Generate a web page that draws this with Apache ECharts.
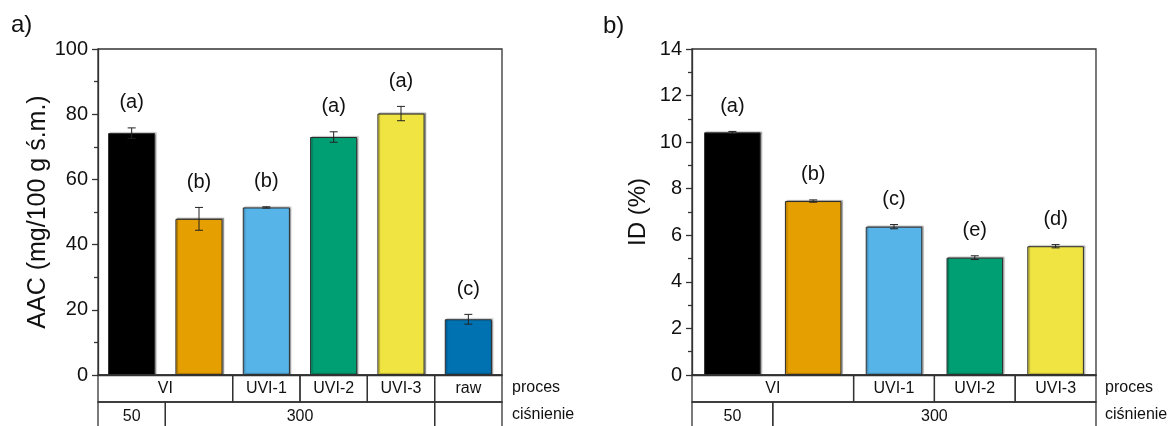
<!DOCTYPE html>
<html>
<head>
<meta charset="utf-8">
<script src="https://cdn.jsdelivr.net/npm/echarts@6/dist/echarts.min.js"></script>
<style>
  html, body { margin: 0; padding: 0; background: #fff; }
  #chart { width: 1170px; height: 426px; }
</style>
</head>
<body>
<div id="chart"></div>
<script>
const FONT = '"Liberation Sans", Arial, Helvetica, sans-serif';

// ---- panel a): AAC ----
const catsA = ['VI-50', 'VI-300', 'UVI-1', 'UVI-2', 'UVI-3', 'raw'];
const aacMean = [74.2, 47.9, 51.4, 73.0, 80.2, 17.1];
const aacErr = [1.6, 3.5, 0.2, 1.6, 2.2, 1.5];
const aacLetters = ['(a)', '(b)', '(b)', '(a)', '(a)', '(c)'];
const colorsA = ['#000000', '#E69F00', '#56B4E9', '#009E73', '#F0E442', '#0072B2'];
const procesA = [['VI', 0, 1], ['UVI-1', 2, 2], ['UVI-2', 3, 3], ['UVI-3', 4, 4], ['raw', 5, 5]];
const cisnA = [['50', 0, 0], ['300', 1, 4], ['', 5, 5]];
const yTicksA = { min: 0, max: 100, interval: 20 };

// ---- panel b): ID ----
const catsB = ['VI-50', 'VI-300', 'UVI-1', 'UVI-2', 'UVI-3'];
const idMean = [10.42, 7.47, 6.37, 5.04, 5.53];
const idErr = [0.04, 0.05, 0.09, 0.08, 0.07];
const idLetters = ['(a)', '(b)', '(c)', '(e)', '(d)'];
const colorsB = ['#000000', '#E69F00', '#56B4E9', '#009E73', '#F0E442'];
const procesB = [['VI', 0, 1], ['UVI-1', 2, 2], ['UVI-2', 3, 3], ['UVI-3', 4, 4]];
const cisnB = [['50', 0, 0], ['300', 1, 4]];
const yTicksB = { min: 0, max: 14, interval: 2 };

const ROW_H = 27;
const LINE = '#333333';

function buildCells(proces, cisn) {
  const cells = [];
  proces.forEach(p => cells.push({ text: p[0], from: p[1], to: p[2], row: 0 }));
  cisn.forEach(p => cells.push({ text: p[0], from: p[1], to: p[2], row: 1 }));
  return cells;
}

// group table beneath the category axis, cells spanning whole category bands
function tableRenderer(cells) {
  return function (params, api) {
    const c = cells[params.dataIndex];
    const band = api.size([1, 0])[0];
    const x0 = api.coord([c.from, 0])[0] - band / 2;
    const x1 = api.coord([c.to, 0])[0] + band / 2;
    const yTop = api.coord([c.from, 0])[1] + c.row * ROW_H;
    const h = c.row === 0 ? ROW_H : ROW_H + 10;
    return {
      type: 'group',
      children: [
        {
          type: 'rect',
          shape: { x: x0, y: yTop, width: x1 - x0, height: h },
          style: { fill: 'none', stroke: LINE, lineWidth: 1.3 }
        },
        {
          type: 'text',
          style: {
            text: c.text, x: (x0 + x1) / 2, y: yTop + ROW_H / 2 + (c.row ? 1 : 0),
            align: 'center', verticalAlign: 'middle',
            fontSize: 16, fontFamily: FONT, fill: '#111'
          }
        }
      ]
    };
  };
}

// error bars with significance letters above them
function errRenderer(letters) {
  return function (params, api) {
    const i = api.value(0), v = api.value(1), e = api.value(2);
    const top = api.coord([i, v + e]);
    const bot = api.coord([i, v - e]);
    const cap = 4;
    return {
      type: 'group',
      children: [
        { type: 'line', shape: { x1: top[0], y1: top[1], x2: bot[0], y2: bot[1] }, style: { stroke: '#222', lineWidth: 1 } },
        { type: 'line', shape: { x1: top[0] - cap, y1: top[1], x2: top[0] + cap, y2: top[1] }, style: { stroke: '#222', lineWidth: 1 } },
        { type: 'line', shape: { x1: bot[0] - cap, y1: bot[1], x2: bot[0] + cap, y2: bot[1] }, style: { stroke: '#222', lineWidth: 1 } },
        {
          type: 'text',
          style: {
            text: letters[params.dataIndex], x: top[0], y: top[1] - 25,
            align: 'center', verticalAlign: 'middle',
            fontSize: 20, fontFamily: FONT, fill: '#111'
          }
        }
      ]
    };
  };
}

function yAxis(gridIndex, ticks, name, nameGap, nameSize) {
  return {
    type: 'value', gridIndex, min: ticks.min, max: ticks.max, interval: ticks.interval,
    name, nameLocation: 'middle', nameGap,
    nameTextStyle: { fontSize: nameSize, fontFamily: FONT, color: '#111' },
    axisLine: { show: true, lineStyle: { color: LINE, width: 1.3 } },
    axisTick: { show: true, inside: false, length: 6, lineStyle: { color: LINE, width: 1.3 } },
    minorTick: { show: true, splitNumber: 2, length: 4, lineStyle: { color: LINE, width: 1.3 } },
    axisLabel: { fontSize: 20, fontFamily: FONT, color: '#111', margin: 10 },
    splitLine: { show: false }
  };
}

function xAxis(gridIndex, cats) {
  return {
    type: 'category', gridIndex, data: cats,
    axisLine: { show: true, lineStyle: { color: LINE, width: 1.3 } },
    axisTick: { show: false }, axisLabel: { show: false }
  };
}

function barSeries(idx, mean, colors) {
  return {
    type: 'bar', xAxisIndex: idx, yAxisIndex: idx, barWidth: '70%',
    data: mean.map((v, i) => ({
      value: v,
      itemStyle: {
        color: colors[i], borderColor: '#2a2a2a', borderWidth: 1,
        shadowColor: 'rgba(0,0,0,0.28)', shadowOffsetX: 1.5, shadowOffsetY: -1, shadowBlur: 1
      }
    })),
    z: 2
  };
}

const cellsA = buildCells(procesA, cisnA);
const cellsB = buildCells(procesB, cisnB);

const chart = echarts.init(document.getElementById('chart'), null, { renderer: 'canvas' });
chart.setOption({
  animation: false,
  backgroundColor: '#fff',
  grid: [
    { left: 98, right: 668, top: 49, bottom: 51, show: true, borderColor: LINE, borderWidth: 1.3, backgroundColor: 'transparent' },
    { left: 692, right: 74, top: 49, bottom: 51, show: true, borderColor: LINE, borderWidth: 1.3, backgroundColor: 'transparent' }
  ],
  xAxis: [xAxis(0, catsA), xAxis(1, catsB)],
  yAxis: [
    yAxis(0, yTicksA, 'AAC (mg/100 g ś.m.)', 47, 25),
    yAxis(1, yTicksB, 'ID (%)', 42, 24)
  ],
  series: [
    barSeries(0, aacMean, colorsA),
    barSeries(1, idMean, colorsB),
    {
      type: 'custom', xAxisIndex: 0, yAxisIndex: 0, z: 5,
      renderItem: errRenderer(aacLetters),
      encode: { x: 0, y: 1 },
      data: aacMean.map((v, i) => [i, v, aacErr[i]])
    },
    {
      type: 'custom', xAxisIndex: 1, yAxisIndex: 1, z: 5,
      renderItem: errRenderer(idLetters),
      encode: { x: 0, y: 1 },
      data: idMean.map((v, i) => [i, v, idErr[i]])
    },
    {
      type: 'custom', xAxisIndex: 0, yAxisIndex: 0, z: 6, clip: false,
      renderItem: tableRenderer(cellsA),
      encode: { x: 0, y: 1 },
      data: cellsA.map(c => [c.from, 0])
    },
    {
      type: 'custom', xAxisIndex: 1, yAxisIndex: 1, z: 6, clip: false,
      renderItem: tableRenderer(cellsB),
      encode: { x: 0, y: 1 },
      data: cellsB.map(c => [c.from, 0])
    }
  ],
  graphic: [
    { type: 'text', left: 11, top: 13, style: { text: 'a)', fontSize: 24, fontFamily: FONT, fill: '#111' } },
    { type: 'text', left: 603, top: 14, style: { text: 'b)', fontSize: 24, fontFamily: FONT, fill: '#111' } },
    { type: 'text', left: 512, top: 380, style: { text: 'proces', fontSize: 16, fontFamily: FONT, fill: '#111' } },
    { type: 'text', left: 512, top: 407, style: { text: 'ciśnienie', fontSize: 16, fontFamily: FONT, fill: '#111' } },
    { type: 'text', left: 1105, top: 380, style: { text: 'proces', fontSize: 16, fontFamily: FONT, fill: '#111' } },
    { type: 'text', left: 1105, top: 407, style: { text: 'ciśnienie', fontSize: 16, fontFamily: FONT, fill: '#111' } }
  ]
});
</script>
</body>
</html>
